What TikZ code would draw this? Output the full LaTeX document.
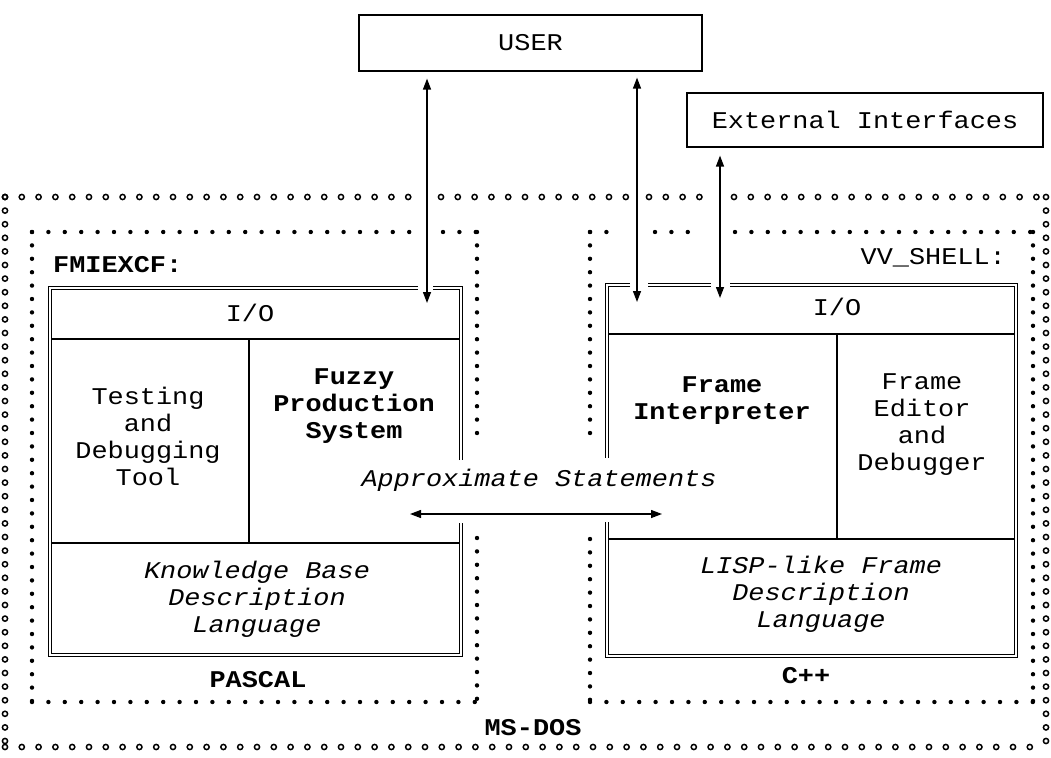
\documentclass[tikz,border=0pt]{standalone}
\usepackage{fontspec}
\newfontfamily\typewr[FakeStretch=1.12]{Liberation Mono}
\usetikzlibrary{arrows.meta, decorations.markings}
\tikzset{
  txt/.style={font=\typewr\fontsize{24}{27}\selectfont, align=center, inner sep=0pt},
  boldtxt/.style={txt, font=\typewr\bfseries\fontsize{24}{27}\selectfont},
  ittxt/.style={txt, font=\typewr\itshape\fontsize{24}{27}\selectfont},
  frame/.style={draw, line width=1.2pt, double, double distance=2.2pt},
  part/.style={draw, line width=1.1pt},
  flow/.style={line width=1.3pt, {Triangle[length=11pt,width=8pt]}-{Triangle[length=11pt,width=8pt]}},
  hdots/.style={line width=4.4pt, line cap=round, dash pattern=on 0pt off 16.4pt},
  vdots/.style={line width=4.4pt, line cap=round, dash pattern=on 0pt off 13.4pt},
  ring/.style={line width=1.5pt},
  hrings/.style={decorate, decoration={markings,
    mark=between positions 0 and 1 step 16.8pt with {\draw[ring] (0,0) circle (2.6pt);}}},
  vrings/.style={decorate, decoration={markings,
    mark=between positions 0 and 1 step 13.6pt with {\draw[ring] (0,0) circle (2.6pt);}}}
}

\begin{document}
\begin{tikzpicture}[x=1pt, y=-1pt]
  \useasboundingbox (0,0) rectangle (1051,757);

  % boxes on top
  \node (user) [txt, draw, line width=1.2pt, minimum width=343pt, minimum height=56pt] at (530.5,43) {USER};
  \node (ext) [txt, draw, line width=1.2pt, minimum width=356pt, minimum height=54pt] at (865,120) {External Interfaces};

  % MS-DOS border
  \path[hrings] (5,197) -- (410,197);
  \path[hrings] (441,197) -- (626,197);
  \path[hrings] (649,197) -- (705,197);
  \path[hrings] (734,197) -- (1046,197);
  \path[hrings] (5,747) -- (1046,747);
  \path[vrings] (5,197) -- (5,747);
  \path[vrings] (1046,197) -- (1046,747);
  \node (dos) [boldtxt] at (533,728) {MS-DOS};

  % PASCAL border
  \draw[hdots] (32,232) -- (412,232);
  \draw[hdots] (443,232) -- (477,232);
  \draw[hdots] (32,702) -- (477,702);
  \draw[vdots] (32,232) -- (32,702);
  \draw[vdots] (477,232) -- (477,443);
  \draw[vdots] (477,538) -- (477,702);

  % C++ border
  \draw[hdots] (590,232) -- (621,232);
  \draw[hdots] (655,232) -- (704,232);
  \draw[hdots] (735,232) -- (1033,232);
  \draw[hdots] (590,702) -- (1033,702);
  \draw[vdots] (590,232) -- (590,443);
  \draw[vdots] (590,539) -- (590,702);
  \draw[vdots] (1033,232) -- (1033,702);

  % FMIEXCF
  \draw[frame] (418,288) -- (50,288) -- (50,655) -- (461,655) -- (461,523);
  \draw[frame] (461,460) -- (461,288) -- (433,288);
  \draw[part] (52,339) -- (459,339);
  \draw[part] (249,339) -- (249,543);
  \draw[part] (52,543) -- (459,543);
  \node (fmi) [boldtxt, anchor=west] at (53,265) {FMIEXCF:};
  \node (ioL) [txt] at (250,313) {I/O};
  \node (test) [txt] at (148,436) {Testing\\and\\Debugging\\Tool};
  \node (fps) [boldtxt] at (354,406) {Fuzzy\\Production\\System};
  \node (kbdl) [ittxt] at (257,599) {Knowledge Base\\Description\\Language};
  \node (pas) [boldtxt] at (258,680) {PASCAL};

  % VV_SHELL
  \draw[frame] (630,285) -- (607,285) -- (607,458);
  \draw[frame] (607,522) -- (607,656) -- (1016,656) -- (1016,285) -- (730,285);
  \draw[frame] (648,285) -- (711,285);
  \draw[part] (609,334) -- (1014,334);
  \draw[part] (837,334) -- (837,539);
  \draw[part] (609,539) -- (1014,539);
  \node (vv) [txt, anchor=east] at (1006,258) {VV\_SHELL:};
  \node (ioR) [txt] at (837,307) {I/O};
  \node (fint) [boldtxt] at (722,401) {Frame\\Interpreter};
  \node (fed) [txt] at (922,425) {Frame\\Editor\\and\\Debugger};
  \node (lisp) [ittxt] at (821,594) {LISP-like Frame\\Description\\Language};
  \node (cpp) [boldtxt] at (806,676) {C++};

  % connectors
  \coordinate (inL) at (427,303);
  \coordinate (inM) at (637,302);
  \coordinate (inR) at (720,298);
  \draw[flow, shorten <=7pt] (user.south -| inL) -- (inL);
  \draw[flow, shorten <=6pt] (user.south -| inM) -- (inM);
  \draw[flow, shorten <=8pt] (ext.south -| inR) -- (inR);

  \node (appr) [ittxt] at (539,480) {Approximate Statements};
  \coordinate (apL) at (410,514);
  \coordinate (apR) at (662,514);
  \draw[flow] (apL) -- (apR);
\end{tikzpicture}
\end{document}
